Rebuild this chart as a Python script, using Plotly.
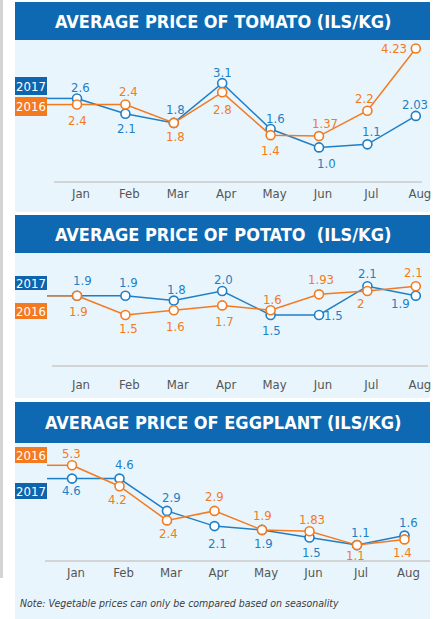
import plotly.graph_objects as go

# ---------------- data ----------------
months = ["Jan", "Feb", "Mar", "Apr", "May", "Jun", "Jul", "Aug"]

tomato_2017 = [2.6, 2.1, 1.8, 3.1, 1.6, 1.0, 1.1, 2.03]
tomato_2016 = [2.4, 2.4, 1.8, 2.8, 1.4, 1.37, 2.2, 4.23]
potato_2017 = [1.9, 1.9, 1.8, 2.0, 1.5, 1.5, 2.1, 1.9]
potato_2016 = [1.9, 1.5, 1.6, 1.7, 1.6, 1.93, 2.0, 2.1]
eggplant_2017 = [4.6, 4.6, 2.9, 2.1, 1.9, 1.5, 1.1, 1.6]
eggplant_2016 = [5.3, 4.2, 2.4, 2.9, 1.9, 1.83, 1.1, 1.4]

tomato_2017_text = ["2.6", "2.1", "1.8", "3.1", "1.6", "1.0", "1.1", "2.03"]
tomato_2016_text = ["2.4", "2.4", "1.8", "2.8", "1.4", "1.37", "2.2", "4.23"]
potato_2017_text = ["1.9", "1.9", "1.8", "2.0", "1.5", "1.5", "2.1", "1.9"]
potato_2016_text = ["1.9", "1.5", "1.6", "1.7", "1.6", "1.93", "2", "2.1"]
eggplant_2017_text = ["4.6", "4.6", "2.9", "2.1", "1.9", "1.5", "1.1", "1.6"]
eggplant_2016_text = ["5.3", "4.2", "2.4", "2.9", "1.9", "1.83", "1.1", "1.4"]

titles = ["AVERAGE PRICE OF TOMATO (ILS/KG)",
          "AVERAGE PRICE OF POTATO  (ILS/KG)",
          "AVERAGE PRICE OF EGGPLANT (ILS/KG)"]
years = ["2017", "2016"]
note = "Note: Vegetable prices can only be compared based on seasonality"

# ---------------- style / layout ----------------
W, H = 435, 619
C17 = "#1f7fc6"
C16 = "#f47a20"
BOX17 = "#0f64ae"
BOX16 = "#f47a20"
BAR = "#0e69b2"
BG = "#e8f5fc"
NARROW = "DejaVu Sans Condensed, DejaVu Sans, sans-serif"

# label offsets (dx, dy) in screen px, dy downward
off_t17 = [(3, -11), (1, 15), (2, -13), (0, -11), (5, -11), (7, 16), (4, -13), (-1, -11)]
off_t16 = [(0, 16), (3, -13), (2, 14), (0, 17), (0, 15), (6, -13), (-3, -12), (-22, 0)]
off_p17 = [(5, -15), (3, -13), (3, -11), (1, -12), (1, 15), (14, 0), (0, -13), (-15, 8)]
off_p16 = [(1, 16), (3, 13), (2, 16), (2, 16), (2, -11), (2, -15), (-7, 12), (-2, -14)]
off_e17 = [(-1, 12), (5, -14), (4, -13), (3, 17), (1, 14), (2, 15), (3, -13), (4, -13)]
off_e16 = [(-1, -12), (-2, 13), (1, 13), (0, -14), (0, -14), (2, -12), (-2, 10), (-2, 13)]

panels = [
    dict(title=titles[0], s17=tomato_2017, s16=tomato_2016, t17=tomato_2017_text,
         t16=tomato_2016_text, o17=off_t17, o16=off_t16,
         bar=(2, 40), bg=(40, 212), plot=(42, 182), zero_px=178.0, ppu=30.6,
         jan=77, step=48.4, base=(54, 422, 182), box17=(77, 95), box16=(97, 116),
         standoff=2),
    dict(title=titles[1], s17=potato_2017, s16=potato_2016, t17=potato_2017_text,
         t16=potato_2016_text, o17=off_p17, o16=off_p16,
         bar=(215, 253), bg=(253, 398), plot=(255, 366), zero_px=387.0, ppu=48.0,
         jan=77, step=48.4, base=(52, 428, 366), box17=(276, 290), box16=(303, 319),
         standoff=9),
    dict(title=titles[2], s17=eggplant_2017, s16=eggplant_2016, t17=eggplant_2017_text,
         t16=eggplant_2016_text, o17=off_e17, o16=off_e16,
         bar=(402, 443), bg=(443, 619), plot=(445, 561), zero_px=566.0, ppu=19.0,
         jan=72, step=47.5, base=(45, 430, 561), box17=(483, 499), box16=(447, 463),
         standoff=2),
]

X0, X1 = 15, 430      # panel extents
PX0, PX1 = 47, 430    # plot domain extents


def fx(p):
    return p / W


def fy(p):
    return 1 - p / H


fig = go.Figure()
shapes = []
annotations = []

# left gray strip
shapes.append(dict(type="rect", xref="paper", yref="paper", x0=0, x1=fx(3),
                   y0=fy(578), y1=1, fillcolor="#d4d4d4", line_width=0, layer="below"))

for i, p in enumerate(panels):
    n = "" if i == 0 else str(i + 1)
    xa, ya = "x" + n, "y" + n
    # backgrounds
    shapes.append(dict(type="rect", xref="paper", yref="paper", x0=fx(X0), x1=fx(X1),
                       y0=fy(p["bg"][1]), y1=fy(p["bg"][0]), fillcolor=BG,
                       line_width=0, layer="below"))
    shapes.append(dict(type="rect", xref="paper", yref="paper", x0=fx(X0), x1=fx(X1),
                       y0=fy(p["bar"][1]), y1=fy(p["bar"][0]), fillcolor=BAR,
                       line_width=0, layer="below"))
    # baseline
    shapes.append(dict(type="line", xref="paper", yref="paper", x0=fx(p["base"][0]),
                       x1=fx(p["base"][1]), y0=fy(p["base"][2]), y1=fy(p["base"][2]),
                       line=dict(color="#d2d4d6", width=2), layer="below"))
    # title
    annotations.append(dict(xref="paper", yref="paper", x=fx((X0 + X1) / 2),
                            y=fy((p["bar"][0] + p["bar"][1]) / 2), text="<b>" + p["title"] + "</b>",
                            showarrow=False, xanchor="center", yanchor="middle",
                            font=dict(family=NARROW, size=18, color="white")))
    # axes
    lo = -(p["jan"] - PX0) / p["step"]
    hi = 7 + (PX1 - (p["jan"] + 7 * p["step"])) / p["step"]
    vtop = (p["zero_px"] - p["plot"][0]) / p["ppu"]
    vbot = (p["zero_px"] - p["plot"][1]) / p["ppu"]
    fig.update_layout(**{
        ("xaxis" + n): dict(domain=[fx(PX0), fx(PX1)], range=[lo, hi], type="category",
                            categoryorder="array", categoryarray=months,
                            showgrid=False, zeroline=False, showline=False, ticks="",
                            anchor=ya, ticklabelshift=4, ticklabelstandoff=p["standoff"],
                            tickfont=dict(family=NARROW, size=13, color="#555555")),
        ("yaxis" + n): dict(domain=[fy(p["plot"][1]), fy(p["plot"][0])], range=[vbot, vtop],
                            visible=False, anchor=xa),
    })
    # lead lines from year boxes to Jan points
    for vals, col in ((p["s17"], C17), (p["s16"], C16)):
        shapes.append(dict(type="line", xref=xa, yref=ya, x0=lo, x1=0, y0=vals[0], y1=vals[0],
                           line=dict(color=col, width=1.5), layer="below"))
    # traces (2017 below, 2016 on top)
    for vals, col, nm in ((p["s17"], C17, "2017"), (p["s16"], C16, "2016")):
        fig.add_trace(go.Scatter(x=months, y=vals, mode="lines+markers", name=nm,
                                 xaxis=xa, yaxis=ya, cliponaxis=False, hoverinfo="skip",
                                 showlegend=False,
                                 line=dict(color=col, width=1.5),
                                 marker=dict(size=9, color="white",
                                             line=dict(color=col, width=1.6))))
    # value labels
    for vals, txt, offs, col in ((p["s17"], p["t17"], p["o17"], C17),
                                 (p["s16"], p["t16"], p["o16"], C16)):
        for m, v, t, (dx, dy) in zip(months, vals, txt, offs):
            annotations.append(dict(xref=xa, yref=ya, x=m, y=v, text=t, showarrow=False,
                                    xanchor="center", yanchor="middle", xshift=dx, yshift=-dy,
                                    font=dict(family=NARROW, size=13, color=col)))
    # year boxes
    for yr, box, col in (("2017", p["box17"], BOX17), ("2016", p["box16"], BOX16)):
        annotations.append(dict(xref="paper", yref="paper", x=fx(X0), y=fy(box[0]),
                                xanchor="left", yanchor="top", text=yr, showarrow=False,
                                width=32, height=box[1] - box[0], bgcolor=col,
                                borderpad=0, borderwidth=0, align="center", valign="middle",
                                font=dict(family=NARROW, size=13, color="white")))

annotations.append(dict(xref="paper", yref="paper", x=fx(18), y=fy(603), xanchor="left",
                        yanchor="middle", showarrow=False, text="<i>" + note + "</i>",
                        font=dict(family=NARROW, size=10.5, color="#3c3c3c")))

fig.update_layout(width=W, height=H, margin=dict(l=0, r=0, t=0, b=0),
                  paper_bgcolor="white", plot_bgcolor="rgba(0,0,0,0)",
                  shapes=shapes, annotations=annotations, showlegend=False)

fig.write_html("out.html", config={"displayModeBar": False},
               post_script="document.body.style.margin='0';document.body.style.overflow='hidden';")
